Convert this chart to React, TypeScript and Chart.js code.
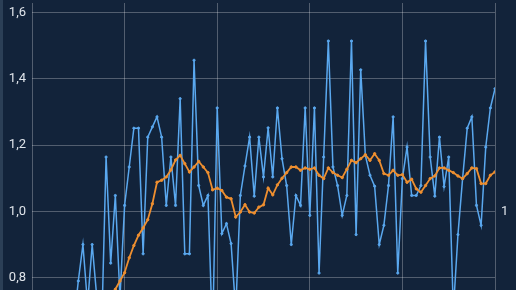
import React, { useEffect, useRef } from 'react';
import { Chart, registerables } from 'chart.js';

Chart.register(...registerables);

// x positions are sample indices 0..100
const X_MIN = 0;
const X_MAX = 100;
const X_STEP = 20;

// Y axis: top gridline value and step
const Y_TOP_TICK = 1.6;
const Y_STEP = 0.2;
const Y2_STEP = 1;

// Raw measurement series (blue)
const SERIES_VALUES = [
  0.62, 0.58, 0.66, 0.6, 0.55, 0.64, 0.6, 0.68, 0.63, 0.66,
  0.79, 0.9, 0.72, 0.9, 0.74, 0.62, 1.164, 0.844, 1.048, 0.74,
  1.018, 1.134, 1.251, 1.251, 0.872, 1.224, 1.255, 1.285, 1.224, 1.018,
  1.164, 1.018, 1.34, 0.872, 0.872, 1.456, 1.078, 1.018, 1.048, 0.62,
  1.312, 0.933, 0.963, 0.903, 0.7, 1.048, 1.137, 1.224, 1.046, 1.224,
  1.104, 1.252, 1.104, 1.312, 1.159, 1.078, 0.9, 1.048, 1.018, 1.312,
  0.988, 1.312, 0.814, 1.164, 1.514, 1.134, 1.078, 0.988, 1.048, 1.514,
  0.93, 1.427, 1.169, 1.109, 1.076, 0.9, 0.958, 1.078, 1.285, 0.814,
  1.099, 1.194, 1.048, 1.048, 1.078, 1.514, 1.164, 1.046, 1.224, 1.075,
  1.164, 0.7, 0.93, 1.099, 1.251, 1.285, 1.018, 0.958, 1.194, 1.312,
  1.37,
];

// Smoothed series (orange)
const AVERAGE_VALUES = [
  0.6, 0.62, 0.61, 0.63, 0.62, 0.64, 0.63, 0.65, 0.64, 0.66,
  0.67, 0.68, 0.69, 0.68, 0.7, 0.71, 0.73, 0.74, 0.765, 0.79,
  0.815, 0.86, 0.897, 0.928, 0.95, 0.975, 1.023, 1.088, 1.094, 1.104,
  1.125, 1.155, 1.169, 1.144, 1.119, 1.134, 1.151, 1.134, 1.117, 1.065,
  1.07, 1.063, 1.043, 1.038, 0.983, 0.998, 1.02, 0.998, 0.995, 1.013,
  1.02, 1.07, 1.05, 1.08, 1.1, 1.117, 1.134, 1.134, 1.124, 1.131,
  1.127, 1.131, 1.109, 1.099, 1.131, 1.117, 1.109, 1.102, 1.127, 1.154,
  1.147, 1.159, 1.171, 1.154, 1.174, 1.154, 1.114, 1.109, 1.124, 1.109,
  1.111, 1.088, 1.097, 1.068, 1.058, 1.078, 1.099, 1.107, 1.131, 1.131,
  1.124, 1.117, 1.107, 1.099, 1.114, 1.131, 1.129, 1.084, 1.084, 1.109,
  1.119,
];

// layout constants (visible window)
const VIEW_W = 516;
const VIEW_H = 290;
const CANVAS_H = 310;
const AREA_TOP = 3; // visible y of the plot area top
const TOP_TICK_Y = 12.5; // visible y of the top gridline
const PX_PER_UNIT = 331.5;

const BG = '#12233a';
const STRIP = '#2b3f56';
const GRID = 'rgba(255,255,255,0.27)';
const TICK_COLOR = '#dfe4ea';
const BLUE = '#5aa8ef';
const ORANGE = '#ee8f30';
const FONT = { family: 'Roboto, "Noto Sans", sans-serif', size: 13 };

export default function App() {
  const ref = useRef<HTMLCanvasElement>(null);

  useEffect(() => {
    if (!ref.current) return;
    const canvas = ref.current;
    const chart = new Chart(canvas, {
      type: 'line',
      data: {
        datasets: [
          {
            label: 'Mittelwert',
            data: AVERAGE_VALUES.map((y, i) => ({ x: i, y })),
            borderColor: ORANGE,
            backgroundColor: ORANGE,
            borderWidth: 1.8,
            pointRadius: 1.2,
            pointBorderWidth: 1,
            tension: 0,
            yAxisID: 'y',
          },
          {
            label: 'Wert',
            data: SERIES_VALUES.map((y, i) => ({ x: i, y })),
            borderColor: BLUE,
            backgroundColor: BLUE,
            borderWidth: 1.5,
            pointRadius: 1.1,
            pointBorderWidth: 1,
            tension: 0,
            yAxisID: 'y',
          },
        ],
      },
      options: {
        animation: false,
        responsive: false,
        layout: { padding: { top: 3, left: 0, right: 0, bottom: 0 } },
        plugins: { legend: { display: false }, tooltip: { enabled: false } },
        scales: {
          x: {
            type: 'linear',
            min: X_MIN,
            max: X_MAX,
            ticks: { display: false, stepSize: X_STEP },
            grid: { color: GRID, drawTicks: false, lineWidth: 1 },
            border: { display: false },
          },
          y: {
            position: 'left',
            min: 0.7,
            max: 1.63,
            ticks: {
              stepSize: Y_STEP,
              includeBounds: false,
              padding: 6,
              color: TICK_COLOR,
              font: FONT,
              callback: (v: any) => Number(v).toFixed(1).replace('.', ','),
            },
            grid: { color: GRID, drawTicks: false },
            border: { display: false },
            afterFit: (s: any) => {
              s.width = 32;
              s.paddingTop = 0;
              s.paddingBottom = 0;
            },
          },
          y2: {
            position: 'right',
            min: 0.7,
            max: 1.63,
            ticks: {
              stepSize: Y2_STEP,
              includeBounds: false,
              padding: 6,
              color: TICK_COLOR,
              font: FONT,
              callback: (v: any) => String(Math.round(Number(v))),
            },
            grid: { display: false, drawTicks: false },
            border: { display: false },
            afterFit: (s: any) => {
              s.width = 21;
              s.paddingTop = 0;
              s.paddingBottom = 0;
            },
          },
        },
      },
    });

    // place the plot window so the visible part matches the reference
    const area = chart.chartArea;
    const shift = AREA_TOP - area.top;
    canvas.style.top = `${shift}px`;
    const max = Y_TOP_TICK + (TOP_TICK_Y - AREA_TOP) / PX_PER_UNIT;
    const min = max - (area.bottom - area.top) / PX_PER_UNIT;
    const sc: any = chart.options.scales;
    sc.y.min = min;
    sc.y.max = max;
    sc.y2.min = min;
    sc.y2.max = max;
    chart.update();

    return () => chart.destroy();
  }, []);

  return (
    <div
      style={{
        position: 'fixed',
        left: 0,
        top: 0,
        width: VIEW_W,
        height: VIEW_H,
        overflow: 'hidden',
        background: BG,
      }}
    >
      <div style={{ position: 'absolute', left: 0, top: 0, width: 3, height: VIEW_H, background: STRIP }} />
      <canvas
        ref={ref}
        width={VIEW_W}
        height={CANVAS_H}
        style={{ position: 'absolute', left: 0, top: 0, width: VIEW_W, height: CANVAS_H }}
      />
    </div>
  );
}
